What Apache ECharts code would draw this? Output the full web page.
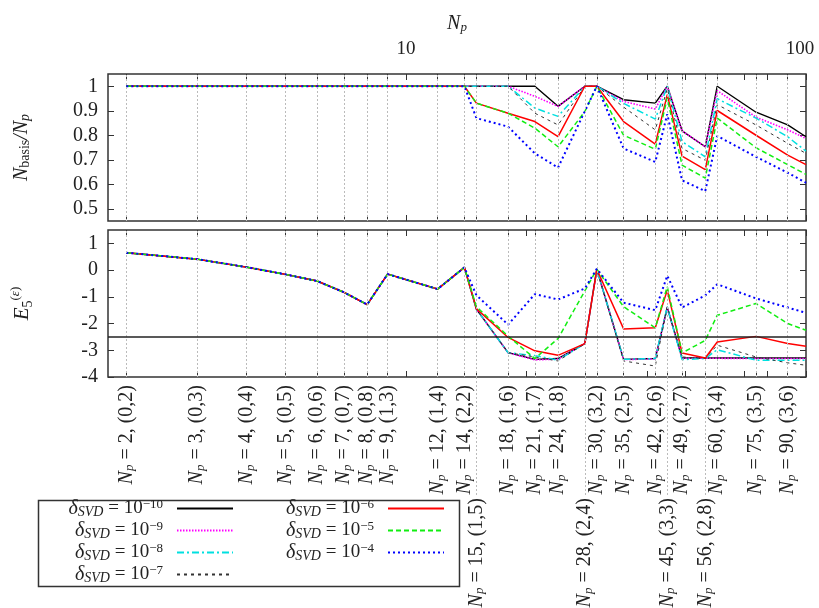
<!DOCTYPE html>
<html>
<head>
<meta charset="utf-8">
<script src="https://cdn.jsdelivr.net/npm/echarts@6/dist/echarts.min.js"></script>
<style>html,body{margin:0;background:#fff}#main{width:819px;height:608px}</style>
</head>
<body>
<div id="main"></div>
<script>
var myChart = echarts.init(document.getElementById('main'));

// N_p values and (l,m) pairs shown under the axis
var npValues = [2, 3, 4, 5, 6, 7, 8, 9, 12, 14, 15, 18, 21, 24, 28, 30, 35, 42, 45, 49, 56, 60, 75, 90, 100];
var npPairs = ['(0,2)', '(0,3)', '(0,4)', '(0,5)', '(0,6)', '(0,7)', '(0,8)', '(1,3)', '(1,4)', '(2,2)', '(1,5)', '(1,6)',
    '(1,7)', '(1,8)', '(2,4)', '(3,2)', '(2,5)', '(2,6)', '(3,3)', '(2,7)', '(2,8)', '(3,4)', '(3,5)', '(3,6)', ''];
var lowLabelNp = [15, 28, 45, 56];
var decadeTicks = [2, 3, 4, 5, 6, 7, 8, 9, 10, 20, 30, 40, 50, 60, 70, 80, 90, 100];
var topLabels = [10, 100];
var ratioTicks = [0.5, 0.6, 0.7, 0.8, 0.9, 1];
var errTicks = [-4, -3, -2, -1, 0, 1];
var errThreshold = -2.5;

var seriesNames = ['1e-10', '1e-9', '1e-8', '1e-7', '1e-6', '1e-5', '1e-4'];
var deltaExp = ['−10', '−9', '−8', '−7', '−6', '−5', '−4'];

// N_basis / N_p
var ratio10 = [1, 1, 1, 1, 1, 1, 1, 1, 1, 1, 1, 1, 1, 0.918, 1, 1, 0.945, 0.931, 1, 0.818, 0.753, 1, 0.894, 0.842, 0.794];
var ratio9 = [1, 1, 1, 1, 1, 1, 1, 1, 1, 1, 1, 1, 0.959, 0.918, 1, 1, 0.938, 0.907, 1, 0.818, 0.753, 0.982, 0.874, 0.822, 0.787];
var ratio8 = [1, 1, 1, 1, 1, 1, 1, 1, 1, 1, 1, 1, 0.911, 0.877, 1, 1, 0.93, 0.866, 1, 0.774, 0.712, 0.949, 0.87, 0.794, 0.735];
var ratio7 = [1, 1, 1, 1, 1, 1, 1, 1, 1, 1, 1, 1, 0.89, 0.842, 1, 1, 0.915, 0.822, 0.99, 0.746, 0.698, 0.925, 0.842, 0.767, 0.726];
var ratio6 = [1, 1, 1, 1, 1, 1, 1, 1, 1, 1, 0.931, 0.89, 0.856, 0.794, 1, 1, 0.856, 0.764, 0.966, 0.715, 0.66, 0.901, 0.8, 0.719, 0.68];
var ratio5 = [1, 1, 1, 1, 1, 1, 1, 1, 1, 1, 0.931, 0.89, 0.829, 0.753, 0.897, 1, 0.8, 0.743, 0.952, 0.678, 0.625, 0.87, 0.749, 0.68, 0.64];
var ratio4 = [1, 1, 1, 1, 1, 1, 1, 1, 1, 1, 0.87, 0.835, 0.726, 0.668, 0.898, 1, 0.746, 0.691, 0.886, 0.616, 0.572, 0.797, 0.712, 0.647, 0.606];

// E_5^(eps)
var err10 = [0.65, 0.41, 0.11, -0.16, -0.41, -0.83, -1.29, -0.15, -0.71, 0.1, -1.46, -3.09, -3.34, -3.31, -2.75, 0.03, -3.34, -3.31, -1.4, -3.29, -3.29, -3.29, -3.29, -3.29, -3.29];
var err9 = [0.65, 0.41, 0.11, -0.16, -0.41, -0.83, -1.29, -0.15, -0.71, 0.1, -1.46, -3.09, -3.36, -3.33, -2.75, 0.03, -3.35, -3.32, -1.4, -3.3, -3.3, -3.3, -3.31, -3.31, -3.31];
var err8 = [0.65, 0.41, 0.11, -0.16, -0.41, -0.83, -1.29, -0.15, -0.71, 0.1, -1.46, -3.09, -3.2, -3.37, -2.75, 0.03, -3.34, -3.31, -1.37, -3.35, -3.31, -2.98, -3.37, -3.37, -3.37];
var err7 = [0.65, 0.41, 0.11, -0.16, -0.41, -0.83, -1.29, -0.15, -0.71, 0.1, -1.46, -3.09, -3.25, -3.4, -2.75, 0.03, -3.4, -3.59, -1.37, -3.25, -3.31, -2.81, -3.25, -3.47, -3.56];
var err6 = [0.65, 0.41, 0.11, -0.16, -0.41, -0.83, -1.29, -0.15, -0.71, 0.1, -1.44, -2.52, -3.02, -3.19, -2.75, 0.03, -2.2, -2.16, -0.75, -3.1, -3.29, -2.69, -2.48, -2.75, -2.85];
var err5 = [0.65, 0.41, 0.11, -0.16, -0.41, -0.83, -1.29, -0.15, -0.71, 0.1, -1.37, -2.47, -3.31, -2.56, -0.78, 0.03, -1.37, -2.16, -0.62, -3.1, -2.63, -1.69, -1.25, -2.0, -2.25];
var err4 = [0.65, 0.41, 0.11, -0.16, -0.41, -0.83, -1.29, -0.15, -0.71, 0.1, -0.94, -2.04, -0.9, -1.1, -0.69, 0.05, -1.22, -1.5, -0.21, -1.4, -0.95, -0.53, -1.06, -1.4, -1.6];

var ratioData = [ratio10, ratio9, ratio8, ratio7, ratio6, ratio5, ratio4];
var errData = [err10, err9, err8, err7, err6, err5, err4];

var lineStyles = [
    {color: '#000000', width: 1.4, type: 'solid'},
    {color: '#ff00ff', width: 1.6, type: [1.5, 1.5]},
    {color: '#00e0e0', width: 1.5, type: [7, 3, 2, 3]},
    {color: '#333333', width: 1, type: [3, 4]},
    {color: '#ff0000', width: 1.5, type: 'solid'},
    {color: '#11ee11', width: 1.5, type: [5, 3]},
    {color: '#0000ff', width: 2, type: [2, 3]}
];

var serif = 'Liberation Serif';
var textColor = '#222';
var gridLineStyle = {color: '#bbbbbb', width: 1, type: [2, 2]};

var tickNp = decadeTicks.concat(npValues).filter(function (v, i, a) { return a.indexOf(v) === i; })
    .sort(function (a, b) { return a - b; });
var mainLabelNp = npValues.filter(function (v) { return lowLabelNp.indexOf(v) < 0 && npPairs[npValues.indexOf(v)] !== ''; });
var gridNp = npValues.filter(function (v) { return npPairs[npValues.indexOf(v)] !== ''; });

function npLabel(v) {
    var i = npValues.indexOf(Math.round(v));
    return '{n|N}{p|p} = ' + Math.round(v) + ', ' + npPairs[i];
}

var labelRich = {
    n: {fontFamily: serif, fontStyle: 'italic', fontSize: 20, color: textColor},
    p: {fontFamily: serif, fontStyle: 'italic', fontSize: 13, color: textColor, verticalAlign: 'bottom', lineHeight: 13}
};

function logAxis(gridIndex, position, extra) {
    var ax = {
        type: 'log', logBase: 10, gridIndex: gridIndex, position: position,
        min: 1.8, max: 100,
        axisLine: {show: false, onZero: false},
        splitLine: {show: false},
        axisTick: {show: true, inside: true, length: 6, customValues: tickNp, lineStyle: {color: '#333', width: 1}},
        axisLabel: {show: false}
    };
    return Object.assign(ax, extra || {});
}

function valAxis(gridIndex, position, min, max, ticks, extra) {
    var ax = {
        type: 'value', gridIndex: gridIndex, position: position, min: min, max: max,
        axisLine: {show: false, onZero: false},
        splitLine: {show: false},
        axisTick: {show: true, inside: true, length: 6, customValues: ticks, lineStyle: {color: '#333', width: 1}},
        axisLabel: {show: false}
    };
    return Object.assign(ax, extra || {});
}

var series = [];
[0, 1].forEach(function (g) {
    // dotted vertical guides at each N_p
    series.push({
        type: 'line', xAxisIndex: g === 0 ? 0 : 2, yAxisIndex: g === 0 ? 0 : 2, data: [], z: 1,
        markLine: {
            silent: true, symbol: ['none', 'none'], label: {show: false}, animation: false,
            lineStyle: gridLineStyle,
            data: gridNp.map(function (v) { return {xAxis: v}; })
        }
    });
});
series.push({
    type: 'line', xAxisIndex: 2, yAxisIndex: 2, data: [], z: 3,
    markLine: {
        silent: true, symbol: ['none', 'none'], label: {show: false}, animation: false,
        lineStyle: {color: '#222', width: 1.5, type: 'solid'},
        data: [{yAxis: errThreshold}]
    }
});
seriesNames.forEach(function (name, k) {
    series.push({
        name: name, type: 'line', xAxisIndex: 0, yAxisIndex: 0, symbol: 'none', z: 2 + k * 0.01,
        lineStyle: lineStyles[k], itemStyle: {color: lineStyles[k].color},
        data: npValues.map(function (x, i) { return [x, ratioData[k][i]]; })
    });
    series.push({
        name: name, type: 'line', xAxisIndex: 2, yAxisIndex: 2, symbol: 'none', z: 2 + k * 0.01,
        lineStyle: lineStyles[k], itemStyle: {color: lineStyles[k].color},
        data: npValues.map(function (x, i) { return [x, errData[k][i]]; })
    });
});

var legendRich = {
    d: {fontFamily: serif, fontStyle: 'italic', fontSize: 20, color: textColor},
    s: {fontFamily: serif, fontStyle: 'italic', fontSize: 14, color: textColor, verticalAlign: 'bottom', lineHeight: 14},
    e: {fontFamily: serif, fontSize: 13, color: textColor, verticalAlign: 'top', lineHeight: 13}
};

function legendBlock(names, left) {
    return {
        orient: 'vertical', left: left, top: 498, padding: 0, itemGap: 1,
        align: 'right', itemWidth: 56, itemHeight: 4,
        itemStyle: {opacity: 0},
        data: names,
        formatter: function (name) {
            return '{d|δ}{s|SVD} = 10{e|' + deltaExp[seriesNames.indexOf(name)] + '}';
        },
        textStyle: {
            fontFamily: serif, fontSize: 19, color: textColor, lineHeight: 21,
            width: 104, align: 'right', padding: [0, 9, 0, 0], rich: legendRich
        }
    };
}

var option = {
    animation: false,
    backgroundColor: '#fff',
    textStyle: {fontFamily: serif},
    grid: [
        {left: 108, right: 13, top: 74, height: 147, show: true, borderColor: '#333', borderWidth: 1.5, outerBoundsMode: 'none'},
        {left: 108, right: 13, top: 230, height: 147, show: true, borderColor: '#333', borderWidth: 1.5, outerBoundsMode: 'none'}
    ],
    xAxis: [
        logAxis(0, 'bottom'),
        logAxis(0, 'top', {
            name: '{n|N}{p|p}', nameLocation: 'middle', nameGap: 40,
            nameTextStyle: {fontFamily: serif, fontSize: 20, color: textColor, rich: labelRich},
            axisLabel: {
                show: true, customValues: topLabels, margin: 15,
                fontFamily: serif, fontSize: 19, color: textColor,
                rich: {r: {fontFamily: serif, fontSize: 19, color: textColor, padding: [0, 12, 0, 0]}},
                formatter: function (v) {
                    var n = Math.round(v);
                    return n === topLabels[topLabels.length - 1] ? '{r|' + n + '}' : String(n);
                }
            }
        }),
        logAxis(1, 'bottom', {
            axisLabel: {
                show: true, customValues: mainLabelNp, rotate: 90, margin: 8,
                fontFamily: serif, fontSize: 20, color: textColor, rich: labelRich,
                formatter: npLabel
            }
        }),
        logAxis(1, 'bottom', {
            axisTick: {show: true, inside: false, length: 118, customValues: lowLabelNp, lineStyle: gridLineStyle},
            axisLabel: {
                show: true, customValues: lowLabelNp, rotate: 90, margin: 121,
                fontFamily: serif, fontSize: 20, color: textColor, rich: labelRich,
                formatter: npLabel
            }
        }),
        logAxis(1, 'top')
    ],
    yAxis: [
        valAxis(0, 'left', 0.45, 1.05, ratioTicks, {
            name: '{i|N}{sub|basis}{i|/N}{subi|p}', nameLocation: 'middle', nameGap: 76,
            nameTextStyle: {
                fontFamily: serif, fontSize: 20, color: textColor,
                rich: {
                    i: {fontFamily: serif, fontStyle: 'italic', fontSize: 20, color: textColor},
                    sub: {fontFamily: serif, fontSize: 14, color: textColor, verticalAlign: 'bottom', lineHeight: 14},
                    subi: {fontFamily: serif, fontStyle: 'italic', fontSize: 14, color: textColor, verticalAlign: 'bottom', lineHeight: 14}
                }
            },
            axisLabel: {show: true, customValues: ratioTicks, margin: 10, fontFamily: serif, fontSize: 20, color: textColor}
        }),
        valAxis(0, 'right', 0.45, 1.05, ratioTicks),
        valAxis(1, 'left', -4, 1.5, errTicks, {
            name: '{i|E}{sub|5}{sup|(}{supi|ε}{sup|)}', nameLocation: 'middle', nameGap: 73,
            nameTextStyle: {
                fontFamily: serif, fontSize: 20, color: textColor, lineHeight: 26,
                rich: {
                    i: {fontFamily: serif, fontStyle: 'italic', fontSize: 21, color: textColor},
                    sub: {fontFamily: serif, fontSize: 14, color: textColor, verticalAlign: 'bottom', lineHeight: 14},
                    sup: {fontFamily: serif, fontSize: 13, color: textColor, verticalAlign: 'top', lineHeight: 13},
                    supi: {fontFamily: serif, fontStyle: 'italic', fontSize: 13, color: textColor, verticalAlign: 'top', lineHeight: 13}
                }
            },
            axisLabel: {show: true, customValues: errTicks, margin: 10, fontFamily: serif, fontSize: 20, color: textColor}
        }),
        valAxis(1, 'right', -4, 1.5, errTicks)
    ],
    legend: [
        legendBlock(seriesNames.slice(0, 4), 59),
        legendBlock(seriesNames.slice(4), 270)
    ],
    graphic: [{
        type: 'rect', left: 36, top: 498, silent: true,
        shape: {width: 421, height: 86},
        style: {fill: 'none', stroke: '#333', lineWidth: 1.5}
    }],
    series: series
};

myChart.setOption(option);
</script>
</body>
</html>
